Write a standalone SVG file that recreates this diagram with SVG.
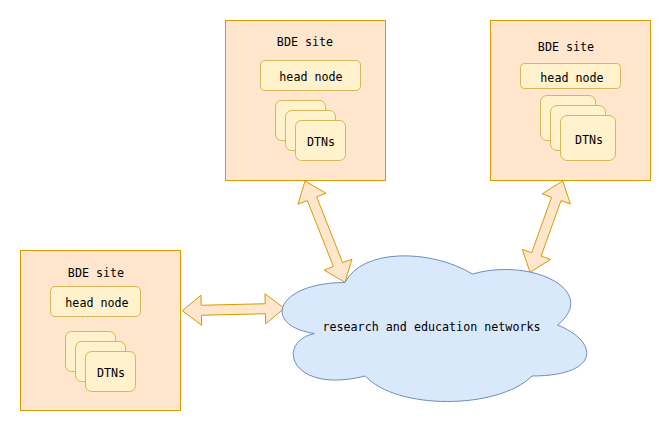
<svg xmlns="http://www.w3.org/2000/svg" width="671" height="431" viewBox="0 0 671 431">
<style>
.site{fill:#ffe6cc;stroke:#d79b00;stroke-width:1}
.box{fill:#fff2cc;stroke:#d6b656;stroke-width:1}
.cloud{fill:#dae8fc;stroke:#6c8ebf;stroke-width:1}
.arrow{fill:#ffe6cc;stroke:#d79b00;stroke-width:1;stroke-linejoin:miter}
text{font-family:"DejaVu Sans Mono","Liberation Mono",monospace;font-size:11.7px;fill:#000;text-anchor:middle}
</style>
<rect width="671" height="431" fill="#ffffff"/>
<g id="connectors">
<polygon class="arrow" points="305,181 298.03,204.18 307.33,200.51 333.37,266.47 324.07,270.14 345,282.3 351.97,259.12 342.67,262.79 316.63,196.83 325.93,193.16"/>
<polygon class="arrow" points="562.7,181 542.17,193.83 551.58,197.2 531.7,252.72 522.29,249.35 530,272.3 550.53,259.47 541.12,256.1 561,200.58 570.41,203.95"/>
<polygon class="arrow" points="182.3,310.7 201.64,325.25 201.41,315.25 265.43,313.75 265.66,323.75 284.3,308.3 264.96,293.75 265.19,303.75 201.17,305.25 200.94,295.25"/>
</g>
<g id="site-top">
<rect class="site" x="225.5" y="20.5" width="160" height="160"/>
<text x="305" y="46">BDE site</text>
<rect class="box" x="260.5" y="60.5" width="100" height="30" rx="4.5"/>
<text x="311" y="81">head node</text>
<rect class="box" x="275.5" y="100.5" width="50" height="40" rx="6"/>
<rect class="box" x="285.5" y="110.5" width="50" height="40" rx="6"/>
<rect class="box" x="295.5" y="120.5" width="50" height="40" rx="6"/>
<text x="321" y="146">DTNs</text>
</g>
<g id="site-right">
<rect class="site" x="490.5" y="20.5" width="160" height="160"/>
<text x="566" y="51">BDE site</text>
<rect class="box" x="520.5" y="63.5" width="100" height="25" rx="3.75"/>
<text x="572" y="81.5">head node</text>
<rect class="box" x="540.5" y="95.5" width="55" height="45" rx="6.5"/>
<rect class="box" x="550.5" y="105.5" width="55" height="45" rx="6.5"/>
<rect class="box" x="560.5" y="115.5" width="55" height="45" rx="6.5"/>
<text x="589" y="143.5">DTNs</text>
</g>
<g id="site-left">
<rect class="site" x="20.5" y="250.5" width="160" height="160"/>
<text x="96" y="277">BDE site</text>
<rect class="box" x="50.5" y="286.5" width="90" height="30" rx="4.5"/>
<text x="97" y="307">head node</text>
<rect class="box" x="65.5" y="331.5" width="50" height="40" rx="6"/>
<rect class="box" x="75.5" y="341.5" width="50" height="40" rx="6"/>
<rect class="box" x="85.5" y="351.5" width="50" height="40" rx="6"/>
<text x="111" y="377">DTNs</text>
</g>
<g id="cloud">
<path class="cloud" d="M 345 282.5 C 277 282.5 260 325 314.4 333.5 C 275 342 290 395 365.4 376 C 396 410 498 410 532 376 C 600 376 600 342 557.5 325 C 600 291 532 257 472.5 274 C 430 248.5 362 248.5 345 282.5 Z"/>
<text x="431.5" y="330.5">research and education networks</text>
</g>
</svg>
